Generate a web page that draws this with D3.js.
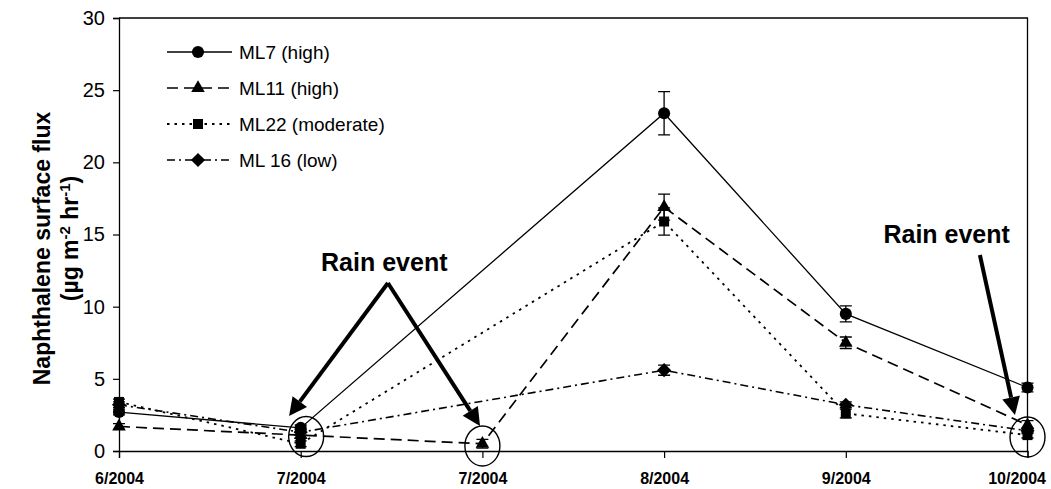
<!DOCTYPE html>
<html>
<head>
<meta charset="utf-8">
<script src="https://cdn.jsdelivr.net/npm/d3@7"></script>
<style>
  html, body { margin: 0; padding: 0; background: #fff; }
  svg { display: block; font-family: "Liberation Sans", Arial, sans-serif; }
</style>
</head>
<body>
<svg id="chart" width="1051" height="489"></svg>
<script>
// Sampling months (two July campaigns)
const categories = ["6/2004", "7/2004", "7/2004", "8/2004", "9/2004", "10/2004"];
const yTicks = [0, 5, 10, 15, 20, 25, 30];

// Naphthalene surface flux per site (µg m-2 hr-1); null = not sampled
const ml7  = [2.7, 1.6, null, 23.4, 9.5, 4.4];
const ml11 = [1.7, 1.1, 0.5, 16.9, 7.5, 1.8];
const ml22 = [3.4, 0.5, null, 15.9, 2.6, 1.1];
const ml16 = [3.2, 1.3, null, 5.6, 3.2, 1.4];

// Standard deviations for error bars
const ml7Err  = [0.2, 0.2, null, 1.5, 0.55, 0.3];
const ml11Err = [0.2, 0.2, 0.3, 0.9, 0.4, 0.3];
const ml22Err = [0.2, 0.2, null, 0.95, 0.3, 0.2];
const ml16Err = [0.2, 0.2, null, 0.35, 0.2, 0.2];

const seriesNames = ["ML7 (high)", "ML11 (high)", "ML22 (moderate)", "ML 16 (low)"];

// Rain-event annotations, in (category index, flux) units
const rainCircles = [[1.03, 1.0], [2.0, 0.35], [5.0, 0.97]];
const rainLabels = [{ text: "Rain event", at: [1.46, 12.47] }, { text: "Rain event", at: [4.555, 14.43] }];
const rainArrows = [
  { from: [1.48, 11.64], to: [0.936, 2.42] },
  { from: [1.48, 11.64], to: [1.987, 1.73] },
  { from: [4.738, 13.58], to: [4.931, 2.49] }
];

// Square diamond (equal width and height)
const squareDiamond = {
  draw(ctx, size) {
    const r = Math.sqrt(size / 2);
    ctx.moveTo(0, -r); ctx.lineTo(r, 0); ctx.lineTo(0, r); ctx.lineTo(-r, 0); ctx.closePath();
  }
};

const series = [
  { name: seriesNames[0], values: ml7,  err: ml7Err,  symbol: d3.symbolCircle,   size: 115, dash: null,        width: 1.3 },
  { name: seriesNames[1], values: ml11, err: ml11Err, symbol: d3.symbolTriangle, size: 80,  dash: "11,6",      width: 1.7 },
  { name: seriesNames[2], values: ml22, err: ml22Err, symbol: d3.symbolSquare,   size: 100, dash: "2.5,5",     width: 1.8 },
  { name: seriesNames[3], values: ml16, err: ml16Err, symbol: squareDiamond,     size: 100, dash: "8,4,2,4",   width: 1.6 }
];

const svg = d3.select("#chart");
const W = 1051, H = 489;
const margin = { left: 119, right: W - 1027.5, top: 18, bottom: H - 451 };

const x = d3.scalePoint()
  .domain(d3.range(categories.length))
  .range([margin.left, W - margin.right])
  .padding(0);
const y = d3.scaleLinear().domain([0, 30]).range([H - margin.bottom, margin.top]);
const px = i => x.range()[0] + i * x.step();

const g = svg.append("g");

// Plot frame (top and right edges)
g.append("path")
  .attr("d", `M${x.range()[0]},${y(30)}H${x.range()[1]}V${y(0)}`)
  .attr("fill", "none").attr("stroke", "#000").attr("stroke-width", 1.3);

// Y axis
const yAxis = g.append("g")
  .attr("transform", `translate(${margin.left},0)`)
  .call(d3.axisLeft(y).tickValues(yTicks).tickSize(6).tickPadding(8));
yAxis.selectAll("text").style("font-size", "20px").attr("fill", "#000");

// X axis
const xAxis = g.append("g")
  .attr("transform", `translate(0,${y(0)})`)
  .call(d3.axisBottom(x).tickFormat(i => categories[i]).tickSize(7).tickPadding(15));
xAxis.selectAll("text").style("font-size", "16px").style("font-weight", "bold").attr("fill", "#000");
// keep the last month label inside the page
xAxis.selectAll(".tick").filter(i => i === categories.length - 1).select("text")
  .attr("text-anchor", "end").attr("x", 18);

[yAxis, xAxis].forEach(a => {
  a.select(".domain").attr("stroke", "#000").attr("stroke-width", 1.3);
  a.selectAll(".tick line").attr("stroke", "#000").attr("stroke-width", 1.2);
});

// Y axis title (two lines)
const midY = (y(0) + y(30)) / 2;
g.append("text")
  .attr("transform", `translate(42,${midY + 14}) rotate(-90)`)
  .attr("text-anchor", "middle").attr("dy", "0.35em")
  .style("font-size", "23px").style("font-weight", "bold")
  .text("Naphthalene surface flux");
const t2 = g.append("text")
  .attr("transform", `translate(70,${midY + 4}) rotate(-90)`)
  .attr("text-anchor", "middle").attr("dy", "0.35em")
  .style("font-size", "23px").style("font-weight", "bold");
t2.append("tspan").text("(µg m");
t2.append("tspan").attr("baseline-shift", "super").style("font-size", "15px").text("-2");
t2.append("tspan").text(" hr");
t2.append("tspan").attr("baseline-shift", "super").style("font-size", "15px").text("-1");
t2.append("tspan").text(")");

// Series lines (skip unsampled months, join neighbours)
const line = d3.line().x(d => x(d.i)).y(d => y(d.v));
series.forEach(s => {
  const pts = s.values.map((v, i) => ({ i, v })).filter(d => d.v != null);
  g.append("path")
    .datum(pts)
    .attr("d", line)
    .attr("fill", "none")
    .attr("stroke", "#000")
    .attr("stroke-width", s.width)
    .attr("stroke-dasharray", s.dash);
});

// Error bars and markers
series.forEach(s => {
  const pts = s.values.map((v, i) => ({ i, v, e: s.err[i] })).filter(d => d.v != null);
  const eb = g.append("g");
  pts.filter(d => d.e).forEach(d => {
    const cx = x(d.i), y1 = y(d.v + d.e), y2 = y(d.v - d.e);
    eb.append("path")
      .attr("d", `M${cx},${y1}V${y2}M${cx - 6},${y1}H${cx + 6}M${cx - 6},${y2}H${cx + 6}`)
      .attr("stroke", "#000").attr("stroke-width", 1.3).attr("fill", "none");
  });
  g.append("g").selectAll("path").data(pts).join("path")
    .attr("transform", d => `translate(${x(d.i)},${y(d.v)})`)
    .attr("d", d3.symbol(s.symbol, s.size))
    .attr("fill", "#000");
});

// Legend
const legend = g.append("g").attr("transform", "translate(167,52)");
series.forEach((s, k) => {
  const row = legend.append("g").attr("transform", `translate(0,${k * 36})`);
  row.append("line").attr("x1", 0).attr("x2", 65).attr("y1", 0).attr("y2", 0)
    .attr("stroke", "#000").attr("stroke-width", s.width).attr("stroke-dasharray", s.dash);
  row.append("path").attr("transform", "translate(31,0)").attr("d", d3.symbol(s.symbol, s.size)).attr("fill", "#000");
  row.append("text").attr("x", 72).attr("y", 7).style("font-size", "19px").text(s.name);
});

// Rain-event annotations
const ann = g.append("g");
rainCircles.forEach(([i, v]) => {
  ann.append("ellipse")
    .attr("cx", px(i)).attr("cy", y(v))
    .attr("rx", 17.5).attr("ry", 20)
    .attr("fill", "none").attr("stroke", "#000").attr("stroke-width", 1.4);
});
rainArrows.forEach(a => {
  const x1 = px(a.from[0]), y1 = y(a.from[1]), x2 = px(a.to[0]), y2 = y(a.to[1]);
  const ang = Math.atan2(y2 - y1, x2 - x1);
  const len = 18, half = 9;
  const bx = x2 - len * Math.cos(ang), by = y2 - len * Math.sin(ang);
  ann.append("line").attr("x1", x1).attr("y1", y1).attr("x2", bx).attr("y2", by)
    .attr("stroke", "#000").attr("stroke-width", 4);
  const nx = -Math.sin(ang), ny = Math.cos(ang);
  ann.append("path")
    .attr("d", `M${x2},${y2}L${bx + half * nx},${by + half * ny}L${bx - half * nx},${by - half * ny}Z`)
    .attr("fill", "#000");
});
rainLabels.forEach(l => {
  ann.append("text")
    .attr("x", px(l.at[0])).attr("y", y(l.at[1]))
    .attr("text-anchor", "middle")
    .style("font-size", "25px").style("font-weight", "bold")
    .text(l.text);
});
</script>
</body>
</html>
